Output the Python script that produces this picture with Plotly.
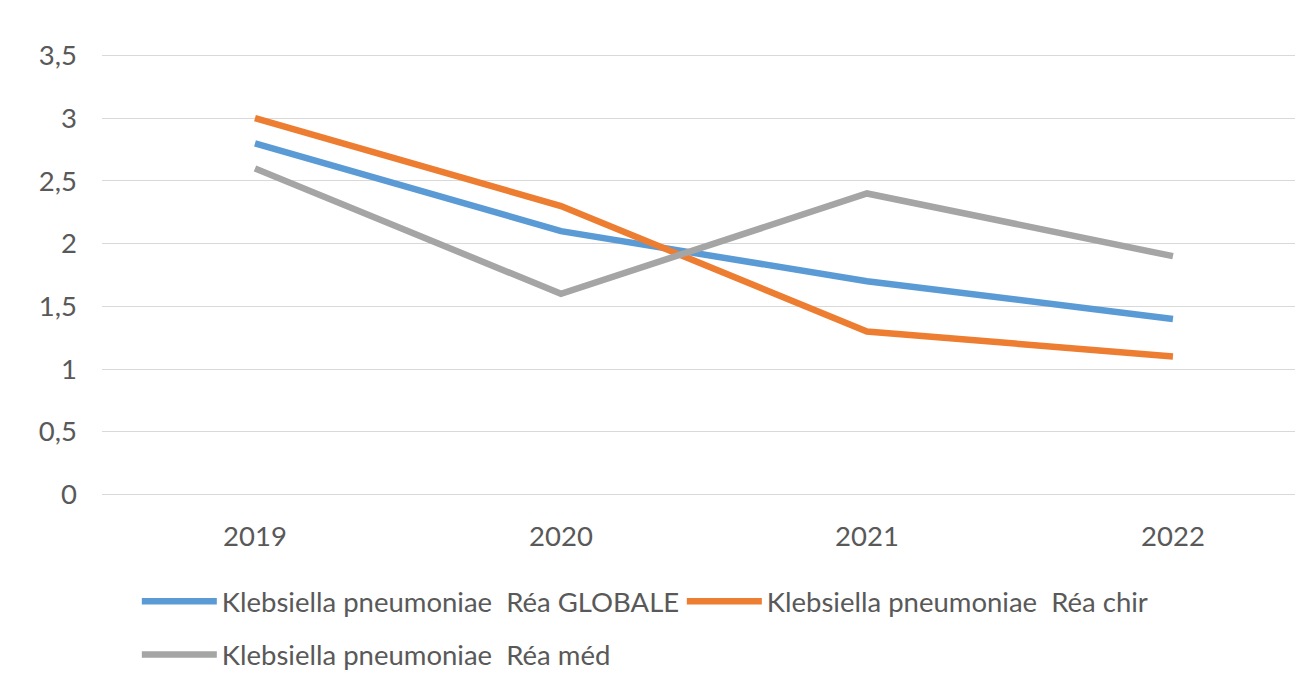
import plotly.graph_objects as go

years = ["2019", "2020", "2021", "2022"]
globale = [2.8, 2.1, 1.7, 1.4]
chir = [3.0, 2.3, 1.3, 1.1]
med = [2.6, 1.6, 2.4, 1.9]
names = ["Klebsiella pneumoniae  Réa GLOBALE",
         "Klebsiella pneumoniae  Réa chir",
         "Klebsiella pneumoniae  Réa méd"]
colors = ["#5B9BD5", "#ED7D31", "#A5A5A5"]
legends = ["legend", "legend", "legend2"]
y_ticks = [0, 0.5, 1, 1.5, 2, 2.5, 3, 3.5]

fig = go.Figure()
for vals, name, col, lg in zip([globale, chir, med], names, colors, legends):
    fig.add_trace(go.Scatter(x=years, y=vals, name=name, mode="lines",
                             line=dict(color=col, width=6.5), legend=lg))

font = "Lato, 'Open Sans', sans-serif"
fs = 27.5
leg_common = dict(orientation="h", xanchor="left", yanchor="middle",
                  font=dict(size=fs, color="#595959"), itemwidth=75,
                  bgcolor="rgba(0,0,0,0)", borderwidth=0)
fig.update_layout(
    width=1295, height=665,
    margin=dict(l=94, r=0, t=44.5, b=175.5, autoexpand=False),
    paper_bgcolor="white", plot_bgcolor="white",
    separators=", ",
    font=dict(family=font, size=fs, color="#595959"),
    xaxis=dict(type="category", range=[-0.5, 3.425], showgrid=False,
               showline=False, zeroline=False, ticks="", automargin=False,
               ticklabelstandoff=20, tickfont=dict(size=fs)),
    yaxis=dict(range=[-0.02, 3.52], tickvals=y_ticks, showgrid=True,
               gridcolor="#D9D9D9", gridwidth=1.3, zeroline=False,
               showline=False, ticks="", ticklabelstandoff=24, automargin=False,
               tickfont=dict(size=fs)),
    legend=dict(x=0.029, y=-0.235, entrywidth=455, entrywidthmode="pixels",
                **leg_common),
    legend2=dict(x=0.029, y=-0.355, **leg_common),
    showlegend=True,
)

fig.write_html("out.html")
